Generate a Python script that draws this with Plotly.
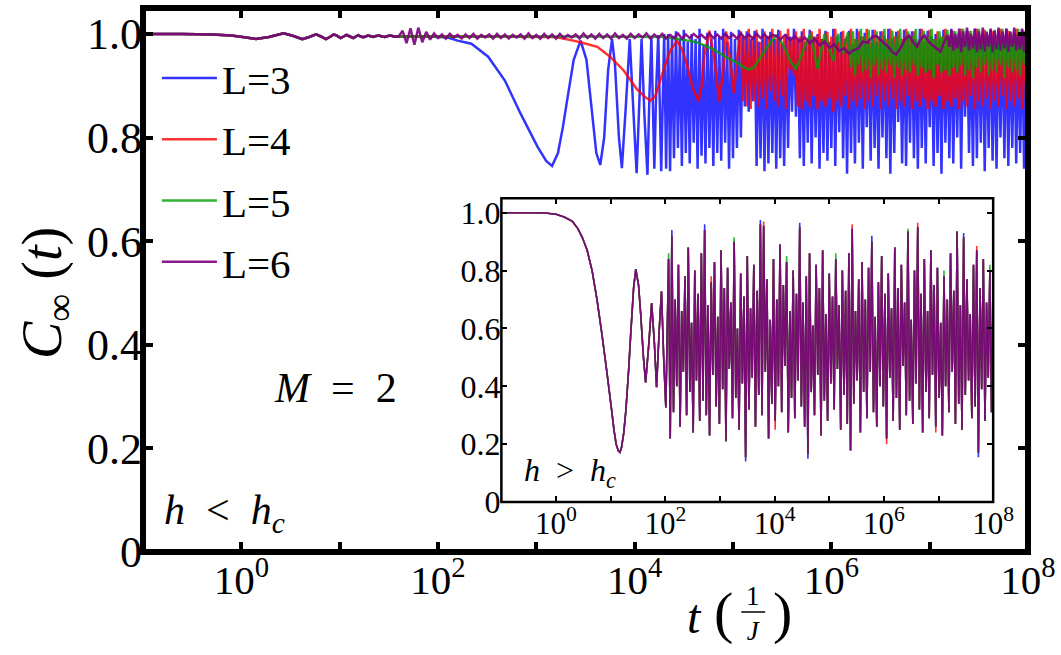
import plotly.graph_objects as go

SERIF = "Liberation Serif"

# ---------------- main panel data (log10 t , C_inf) ----------------
early_lt = [-1.0, -0.6, -0.3, -0.1, 0.05, 0.15, 0.28, 0.43, 0.53, 0.62,
            0.69, 0.76, 0.81, 0.86, 0.90, 0.94, 0.975, 1.01, 1.04, 1.07,
            1.105, 1.14, 1.165, 1.19, 1.215, 1.24, 1.265, 1.29, 1.315, 1.34,
            1.37, 1.40, 1.43, 1.46, 1.49, 1.52, 1.55]
early_v = [1.000, 1.000, 0.999, 0.997, 0.993, 0.990, 0.994, 1.001, 0.996, 0.990,
           0.994, 0.999, 0.995, 0.990, 0.994, 0.999, 0.996, 0.992, 0.995, 0.998,
           0.995, 0.992, 0.995, 0.9975, 0.995, 0.9935, 0.995, 0.997, 0.9955, 0.994,
           0.996, 0.997, 0.995, 0.994, 0.996, 0.997, 0.995]

blue_mid_lt = [1.60, 1.90, 2.10, 2.20, 2.34, 2.51, 2.68, 2.84, 3.01, 3.10,
               3.16, 3.22, 3.27, 3.32, 3.38, 3.45, 3.51, 3.56, 3.61, 3.65,
               3.69, 3.73, 3.77, 3.80, 3.84, 3.87, 3.91, 3.95, 3.99, 4.02,
               4.05, 4.07, 4.10, 4.13, 4.15, 4.17, 4.20, 4.22, 4.24, 4.27,
               4.30, 4.32, 4.34, 4.36]
blue_mid_v = [0.995, 0.995, 0.993, 0.987, 0.981, 0.956, 0.910, 0.846, 0.783, 0.755,
              0.745, 0.770, 0.820, 0.880, 0.950, 0.987, 0.950, 0.860, 0.770, 0.747,
              0.800, 0.930, 0.990, 0.940, 0.800, 0.741, 0.860, 0.990, 0.840, 0.731,
              0.880, 0.990, 0.840, 0.728, 0.880, 0.995, 0.740, 0.900, 0.998, 0.735,
              1.000, 0.740, 1.000, 0.735]

red_mid_lt = [1.60, 2.00, 2.60, 3.00, 3.19, 3.22, 3.35, 3.45, 3.62, 3.75,
              3.89, 4.02, 4.10, 4.16, 4.21, 4.26, 4.31, 4.36, 4.43, 4.48,
              4.53, 4.59, 4.65, 4.68, 4.71, 4.76, 4.81, 4.86, 4.90, 4.93,
              4.97, 5.01, 5.04]
red_mid_v = [0.995, 0.995, 0.995, 0.994, 0.994, 0.993, 0.988, 0.984, 0.975, 0.956,
             0.929, 0.894, 0.879, 0.871, 0.880, 0.910, 0.940, 0.967, 0.987, 0.970,
             0.942, 0.895, 0.870, 0.900, 0.960, 1.006, 0.950, 0.870, 0.930, 1.005,
             0.950, 0.885, 0.950]

green_mid_lt = [1.60, 2.50, 3.50, 4.30, 4.45, 4.63, 4.80, 4.96, 5.06, 5.11,
                5.16, 5.21, 5.26, 5.33, 5.39, 5.44, 5.49, 5.54, 5.59, 5.64,
                5.69, 5.74, 5.79, 5.83, 5.86, 5.90, 5.93, 5.98, 6.02, 6.05,
                6.07, 6.10, 6.12, 6.15, 6.17]
green_mid_v = [0.995, 0.995, 0.995, 0.994, 0.990, 0.984, 0.970, 0.952, 0.942, 0.936,
               0.931, 0.935, 0.948, 0.970, 0.985, 0.996, 0.985, 0.967, 0.945, 0.933,
               0.955, 0.981, 1.000, 0.960, 0.933, 0.970, 1.000, 0.970, 0.948, 0.985,
               1.000, 0.975, 0.962, 0.990, 1.003]

purple_fuzz_lt = [1.60, 1.64, 1.68, 1.72, 1.76, 1.80, 1.84, 1.88, 1.92, 1.96,
                  2.00, 2.04, 2.08, 2.12, 2.16, 2.20, 2.24, 2.28, 2.32, 2.36,
                  2.40, 2.44, 2.48, 2.52, 2.56, 2.60, 2.64, 2.68, 2.72, 2.76,
                  2.80, 2.84, 2.88, 2.92, 2.96, 3.00, 3.04, 3.08, 3.12, 3.16,
                  3.20, 3.24, 3.28, 3.32, 3.36, 3.40, 3.44, 3.48, 3.52, 3.56,
                  3.60, 3.64, 3.68, 3.72, 3.76, 3.80, 3.84, 3.88, 3.92, 3.96,
                  4.00, 4.04, 4.08, 4.12, 4.16, 4.20, 4.24, 4.28, 4.32, 4.36,
                  4.40, 4.44, 4.48, 4.52, 4.56, 4.60, 4.64, 4.68, 4.72, 4.76,
                  4.80, 4.84, 4.88, 4.92, 4.96, 5.00, 5.04, 5.08, 5.12, 5.16,
                  5.20, 5.24, 5.28, 5.32, 5.36, 5.40]
purple_fuzz_v = [0.995, 1.006, 0.982, 1.011, 0.979, 1.012, 0.984, 1.004, 0.989, 1.001,
                 0.992, 0.999, 0.991, 1.000, 0.993, 0.998, 0.991, 0.999, 0.992, 1.000,
                 0.991, 0.998, 0.993, 0.999, 0.991, 1.000, 0.992, 0.999, 0.991, 0.998,
                 0.993, 0.999, 0.991, 1.001, 0.992, 0.998, 0.991, 1.000, 0.992, 0.999,
                 0.991, 1.000, 0.992, 0.998, 0.993, 0.999, 0.991, 1.001, 0.992, 0.999,
                 0.991, 1.000, 0.992, 0.999, 0.991, 1.001, 0.992, 0.998, 0.991, 1.000,
                 0.992, 0.999, 0.993, 1.001, 0.991, 0.999, 0.992, 1.000, 0.991, 0.998,
                 0.992, 1.001, 0.991, 0.999, 0.992, 1.000, 0.993, 0.998, 0.991, 1.001,
                 0.992, 0.999, 0.991, 1.000, 0.992, 0.999, 0.991, 1.001, 0.992, 0.999,
                 0.991, 1.000, 0.992, 0.999, 0.992, 0.998]

purple_dip_lt = [5.44, 5.48, 5.53, 5.58, 5.63, 5.68, 5.73, 5.78, 5.83, 5.88,
                 5.93, 5.98, 6.03, 6.08, 6.13, 6.18, 6.22, 6.27, 6.32, 6.37,
                 6.42, 6.46, 6.52, 6.58, 6.62, 6.66, 6.71, 6.75, 6.79, 6.83,
                 6.87, 6.91, 6.95, 6.99, 7.03, 7.07, 7.11, 7.15, 7.18]
purple_dip_v = [0.996, 0.989, 0.998, 0.988, 0.995, 0.986, 0.993, 0.982, 0.990, 0.978,
                0.985, 0.973, 0.980, 0.967, 0.972, 0.962, 0.968, 0.972, 0.985, 0.983,
                0.995, 0.996, 0.985, 0.975, 0.965, 0.960, 0.975, 0.990, 0.997, 0.985,
                0.975, 0.990, 0.997, 0.985, 0.978, 0.972, 0.966, 0.985, 0.998]

# sampling times of the densely oscillating late-time region (log10 t)
dense_lt = [4.38, 4.40, 4.42, 4.44, 4.46, 4.48, 4.50, 4.52, 4.54, 4.56,
            4.58, 4.60, 4.62, 4.64, 4.66, 4.68, 4.70, 4.72, 4.74, 4.76,
            4.78, 4.80, 4.82, 4.84, 4.86, 4.88, 4.90, 4.92, 4.94, 4.96,
            4.98, 5.00, 5.02, 5.04, 5.06, 5.08, 5.10, 5.12, 5.14, 5.16,
            5.18, 5.20, 5.22, 5.24, 5.26, 5.28, 5.30, 5.32, 5.34, 5.36,
            5.38, 5.40, 5.42, 5.44, 5.46, 5.48, 5.50, 5.52, 5.54, 5.56,
            5.58, 5.60, 5.62, 5.64, 5.66, 5.68, 5.70, 5.72, 5.74, 5.76,
            5.78, 5.80, 5.82, 5.84, 5.86, 5.88, 5.90, 5.92, 5.94, 5.96,
            5.98, 6.00, 6.02, 6.04, 6.06, 6.08, 6.10, 6.12, 6.14, 6.16,
            6.18, 6.20, 6.22, 6.24, 6.26, 6.28, 6.30, 6.32, 6.34, 6.36,
            6.38, 6.40, 6.42, 6.44, 6.46, 6.48, 6.50, 6.52, 6.54, 6.56,
            6.58, 6.60, 6.62, 6.64, 6.66, 6.68, 6.70, 6.72, 6.74, 6.76,
            6.78, 6.80, 6.82, 6.84, 6.86, 6.88, 6.90, 6.92, 6.94, 6.96,
            6.98, 7.00, 7.02, 7.04, 7.06, 7.08, 7.10, 7.12, 7.14, 7.16,
            7.18, 7.20, 7.22, 7.24, 7.26, 7.28, 7.30, 7.32, 7.34, 7.36,
            7.38, 7.40, 7.42, 7.44, 7.46, 7.48, 7.50, 7.52, 7.54, 7.56,
            7.58, 7.60, 7.62, 7.64, 7.66, 7.68, 7.70, 7.72, 7.74, 7.76,
            7.78, 7.80, 7.82, 7.84, 7.86, 7.88, 7.90, 7.92, 7.94, 7.96,
            7.98, 8.00, 8.02]

blue_dense_v = [0.995, 0.76, 1.005, 0.78, 0.990, 0.745, 1.008, 0.77, 0.985, 0.75,
                1.000, 0.79, 0.990, 0.74, 1.010, 0.765, 0.980, 0.75, 1.002, 0.78,
                0.990, 0.745, 1.006, 0.77, 0.995, 0.755, 1.010, 0.79, 0.985, 0.74,
                1.004, 0.76, 0.990, 0.78, 1.008, 0.80, 0.995, 0.86, 1.005, 0.85,
                0.990, 0.87, 1.006, 0.745, 0.985, 0.76, 1.010, 0.735, 0.995, 0.75,
                1.004, 0.77, 0.990, 0.74, 1.008, 0.76, 0.980, 0.745, 1.000, 0.78,
                0.995, 0.85, 1.010, 0.84, 0.990, 0.76, 1.005, 0.745, 0.985, 0.79,
                1.008, 0.75, 0.995, 0.80, 1.000, 0.74, 0.990, 0.77, 1.006, 0.755,
                0.985, 0.78, 1.010, 0.745, 0.995, 0.81, 1.004, 0.76, 0.990, 0.73,
                1.006, 0.77, 0.980, 0.75, 1.010, 0.79, 0.995, 0.74, 1.002, 0.82,
                0.990, 0.755, 1.008, 0.78, 0.985, 0.74, 1.005, 0.80, 0.995, 0.76,
                1.010, 0.73, 0.990, 0.77, 1.004, 0.83, 0.980, 0.75, 1.008, 0.745,
                0.995, 0.79, 1.005, 0.76, 0.990, 0.74, 1.010, 0.78, 0.985, 0.75,
                1.006, 0.82, 0.995, 0.745, 1.000, 0.77, 0.990, 0.73, 1.008, 0.79,
                0.985, 0.76, 1.010, 0.75, 0.995, 0.80, 1.004, 0.74, 0.990, 0.84,
                1.006, 0.77, 0.980, 0.745, 1.010, 0.76, 0.995, 0.79, 1.002, 0.735,
                0.990, 0.78, 1.008, 0.755, 0.985, 0.74, 1.005, 0.80, 0.995, 0.76,
                1.010, 0.745, 0.990, 0.78, 1.004, 0.75, 0.985, 0.77, 1.008, 0.74,
                0.995, 0.79, 1.000]

RED_START, GREEN_START, PURPLE_START = 35, 91, 141
red_dense_v = [1.005, 0.87, 0.990, 0.86, 1.010,
               0.855, 0.995, 0.87, 1.008, 0.86, 0.985, 0.875, 1.005, 0.855, 0.995,
               0.89, 1.010, 0.87, 0.990, 0.86, 1.006, 0.88, 0.995, 0.855, 1.010,
               0.93, 0.990, 0.92, 1.005, 0.86, 0.995, 0.855, 1.010, 0.87, 0.985,
               0.86, 1.005, 0.88, 0.995, 0.855, 1.010, 0.87, 0.990, 0.86, 1.004,
               0.875, 0.995, 0.85, 1.010, 0.87, 0.985, 0.86, 1.006, 0.88, 0.995,
               0.855, 1.010, 0.87, 0.990, 0.86, 1.005, 0.875, 0.995, 0.855, 1.010,
               0.87, 0.985, 0.86, 1.008, 0.88, 0.995, 0.855, 1.005, 0.87, 0.990,
               0.86, 1.010, 0.875, 0.995, 0.855, 1.006, 0.87, 0.990, 0.86, 1.010,
               0.88, 0.995, 0.855, 1.005, 0.87, 0.985, 0.86, 1.010, 0.875, 0.995,
               0.855, 1.008, 0.87, 0.990, 0.86, 1.005, 0.88, 0.995, 0.855, 1.010,
               0.87, 0.995, 0.86, 1.006, 0.875, 0.990, 0.855, 1.010, 0.87, 0.985,
               0.86, 1.005, 0.88, 0.995, 0.855, 1.010, 0.87, 0.990, 0.86, 1.008,
               0.875, 0.995, 0.855, 1.005, 0.87, 0.985, 0.86, 1.010, 0.88, 0.995,
               0.855, 1.006, 0.87, 0.990, 0.86, 1.010, 0.875, 0.995, 0.855, 1.005,
               0.87, 0.990, 0.86]
green_dense_v = [0.935, 1.005, 0.920, 0.990, 0.940, 1.010, 0.925, 0.995, 0.930,
                 1.008, 0.915, 0.990, 0.940, 1.005, 0.920, 0.995, 0.930, 1.010, 0.925,
                 0.990, 0.940, 1.006, 0.915, 0.995, 0.935, 1.010, 0.920, 0.990, 0.930,
                 1.005, 0.925, 0.995, 0.940, 1.010, 0.920, 0.990, 0.935, 1.006, 0.925,
                 0.995, 0.930, 1.010, 0.915, 0.990, 0.940, 1.005, 0.925, 0.995, 0.930,
                 1.008, 0.920, 0.990, 0.935, 1.005, 0.925, 0.995, 0.940, 1.010, 0.920,
                 0.995, 0.930, 1.006, 0.915, 0.990, 0.935, 1.010, 0.925, 0.995, 0.940,
                 1.005, 0.920, 0.990, 0.930, 1.008, 0.925, 0.995, 0.940, 1.010, 0.915,
                 0.990, 0.935, 1.005, 0.925, 0.995, 0.930, 1.010, 0.920, 0.990, 0.940,
                 1.006, 0.925, 0.995]
purple_dense_v = [0.975, 1.008, 0.968, 1.000, 0.972, 1.010, 0.965, 1.005, 0.975,
                  1.012, 0.968, 1.000, 0.972, 1.010, 0.965, 1.005, 0.970, 1.012, 0.966,
                  1.003, 0.975, 1.010, 0.965, 1.006, 0.970, 1.012, 0.968, 1.005, 0.972,
                  1.010, 0.965, 1.004, 0.975, 1.012, 0.968, 1.000, 0.970, 1.010, 0.966,
                  1.006, 0.972, 1.010]

# ---------------- inset data (h > h_c) ----------------
inset_smooth_lt = [-1.0, -0.5, -0.2, 0.0, 0.15, 0.30, 0.40, 0.48, 0.57, 0.66,
                   0.75, 0.84, 0.93, 1.01, 1.06, 1.10, 1.14, 1.17, 1.20, 1.24,
                   1.28, 1.33, 1.37, 1.42, 1.46, 1.51, 1.55, 1.60, 1.64, 1.70,
                   1.75, 1.80, 1.84, 1.89, 1.93, 1.97, 2.01]
inset_smooth_v = [1.000, 1.000, 0.999, 0.995, 0.985, 0.970, 0.945, 0.915, 0.870, 0.800,
                  0.700, 0.580, 0.450, 0.330, 0.250, 0.200, 0.177, 0.172, 0.190, 0.240,
                  0.320, 0.460, 0.590, 0.740, 0.805, 0.750, 0.648, 0.500, 0.413, 0.550,
                  0.688, 0.550, 0.397, 0.600, 0.728, 0.500, 0.327]
inset_dense_lt = [2.06, 2.09, 2.12, 2.15, 2.18, 2.21, 2.24, 2.27, 2.30, 2.33,
                  2.36, 2.39, 2.42, 2.45, 2.48, 2.51, 2.54, 2.57, 2.60, 2.63,
                  2.66, 2.69, 2.72, 2.75, 2.78, 2.81, 2.84, 2.87, 2.90, 2.93,
                  2.96, 2.99, 3.02, 3.05, 3.08, 3.11, 3.14, 3.17, 3.20, 3.23,
                  3.26, 3.29, 3.32, 3.35, 3.38, 3.41, 3.44, 3.47, 3.50, 3.53,
                  3.56, 3.59, 3.62, 3.65, 3.68, 3.71, 3.74, 3.77, 3.80, 3.83,
                  3.86, 3.89, 3.92, 3.95, 3.98, 4.01, 4.04, 4.07, 4.10, 4.13,
                  4.16, 4.19, 4.22, 4.25, 4.28, 4.31, 4.34, 4.37, 4.40, 4.43,
                  4.46, 4.49, 4.52, 4.55, 4.58, 4.61, 4.64, 4.67, 4.70, 4.73,
                  4.76, 4.79, 4.82, 4.85, 4.88, 4.91, 4.94, 4.97, 5.00, 5.03,
                  5.06, 5.09, 5.12, 5.15, 5.18, 5.21, 5.24, 5.27, 5.30, 5.33,
                  5.36, 5.39, 5.42, 5.45, 5.48, 5.51, 5.54, 5.57, 5.60, 5.63,
                  5.66, 5.69, 5.72, 5.75, 5.78, 5.81, 5.84, 5.87, 5.90, 5.93,
                  5.96, 5.99, 6.02, 6.05, 6.08, 6.11, 6.14, 6.17, 6.20, 6.23,
                  6.26, 6.29, 6.32, 6.35, 6.38, 6.41, 6.44, 6.47, 6.50, 6.53,
                  6.56, 6.59, 6.62, 6.65, 6.68, 6.71, 6.74, 6.77, 6.80, 6.83,
                  6.86, 6.89, 6.92, 6.95, 6.98, 7.01, 7.04, 7.07, 7.10, 7.13,
                  7.16, 7.19, 7.22, 7.25, 7.28, 7.31, 7.34, 7.37, 7.40, 7.43,
                  7.46, 7.49, 7.52, 7.55, 7.58, 7.61, 7.64, 7.67, 7.70, 7.73,
                  7.76, 7.79, 7.82, 7.85, 7.88, 7.91, 7.94, 7.97, 8.00, 8.03]
inset_dense_v = [0.84, 0.22, 0.92, 0.31, 0.70, 0.40, 0.82, 0.26, 0.66, 0.45,
                 0.78, 0.30, 0.88, 0.38, 0.62, 0.24, 0.80, 0.42, 0.72, 0.28,
                 0.86, 0.35, 0.94, 0.30, 0.68, 0.23, 0.76, 0.44, 0.83, 0.33,
                 0.64, 0.27, 0.87, 0.39, 0.74, 0.21, 0.81, 0.46, 0.69, 0.29,
                 0.90, 0.36, 0.60, 0.25, 0.79, 0.41, 0.71, 0.155, 0.85, 0.32,
                 0.67, 0.43, 0.82, 0.26, 0.73, 0.37, 0.96, 0.30, 0.955, 0.45,
                 0.77, 0.22, 0.63, 0.34, 0.84, 0.28, 0.70, 0.40, 0.89, 0.31,
                 0.75, 0.47, 0.83, 0.24, 0.66, 0.36, 0.80, 0.29, 0.72, 0.42,
                 0.95, 0.33, 0.69, 0.26, 0.78, 0.165, 0.86, 0.38, 0.61, 0.30,
                 0.82, 0.44, 0.74, 0.23, 0.87, 0.35, 0.65, 0.28, 0.79, 0.41,
                 0.71, 0.32, 0.84, 0.46, 0.68, 0.25, 0.80, 0.37, 0.73, 0.27,
                 0.86, 0.178, 0.945, 0.34, 0.66, 0.42, 0.77, 0.24, 0.83, 0.38,
                 0.70, 0.29, 0.81, 0.45, 0.90, 0.31, 0.64, 0.26, 0.76, 0.40,
                 0.85, 0.33, 0.72, 0.22, 0.79, 0.43, 0.67, 0.28, 0.88, 0.36,
                 0.74, 0.25, 0.82, 0.47, 0.69, 0.30, 0.935, 0.35, 0.63, 0.27,
                 0.80, 0.41, 0.95, 0.32, 0.72, 0.24, 0.84, 0.38, 0.66, 0.29,
                 0.87, 0.44, 0.75, 0.26, 0.81, 0.36, 0.62, 0.23, 0.78, 0.40,
                 0.70, 0.31, 0.86, 0.45, 0.73, 0.27, 0.935, 0.34, 0.68, 0.25,
                 0.915, 0.37, 0.77, 0.42, 0.65, 0.29, 0.82, 0.33, 0.87, 0.17,
                 0.74, 0.39, 0.84, 0.28, 0.69, 0.43, 0.80, 0.31, 0.72, 0.35]
# spikes where the smaller systems poke out of the L=6 curve (index into dense part)
inset_tips_L3_idx = [2, 22, 47, 56, 80, 85, 124, 180, 189]
inset_tips_L3_v = [0.94, 0.96, 0.14, 0.975, 0.965, 0.15, 0.92, 0.93, 0.155]
inset_tips_L4_idx = [26, 58, 65, 112, 133, 152, 163, 188]
inset_tips_L4_v = [0.78, 0.97, 0.25, 0.96, 0.20, 0.965, 0.24, 0.885]
inset_tips_L5_idx = [0, 40, 72, 102, 146, 168, 196]
inset_tips_L5_v = [0.86, 0.915, 0.85, 0.86, 0.945, 0.80, 0.82]

names = ["L=3", "L=4", "L=5", "L=6"]
colors = ["rgba(0,0,255,0.8)", "rgba(255,0,0,0.8)", "rgba(0,160,0,0.8)", "rgba(128,0,128,0.9)"]

x_major_exp = [0, 2, 4, 6, 8]
x_major_text = ["10<sup>0</sup>", "10<sup>2</sup>", "10<sup>4</sup>", "10<sup>6</sup>",
                "10<sup>8</sup>"]
x_minor_exp = [-1, 1, 3, 5, 7]
y_tick_vals = [0, 0.2, 0.4, 0.6, 0.8, 1.0]
y_tick_text = ["0", "0.2", "0.4", "0.6", "0.8", "1.0"]

# ---------------- assemble series ----------------
for a, b in [(early_lt, early_v), (blue_mid_lt, blue_mid_v), (red_mid_lt, red_mid_v),
             (green_mid_lt, green_mid_v), (purple_fuzz_lt, purple_fuzz_v),
             (purple_dip_lt, purple_dip_v), (dense_lt, blue_dense_v),
             (dense_lt[RED_START:], red_dense_v), (dense_lt[GREEN_START:], green_dense_v),
             (dense_lt[PURPLE_START:], purple_dense_v),
             (inset_smooth_lt, inset_smooth_v), (inset_dense_lt, inset_dense_v)]:
    assert len(a) == len(b), (len(a), len(b))

main_lt = [
    early_lt + blue_mid_lt + dense_lt,
    early_lt + red_mid_lt + dense_lt[RED_START:],
    early_lt + green_mid_lt + dense_lt[GREEN_START:],
    early_lt + purple_fuzz_lt + purple_dip_lt + dense_lt[PURPLE_START:],
]
main_v = [
    early_v + blue_mid_v + blue_dense_v,
    early_v + red_mid_v + red_dense_v,
    early_v + green_mid_v + green_dense_v,
    early_v + purple_fuzz_v + purple_dip_v + purple_dense_v,
]

inset_lt = inset_smooth_lt + inset_dense_lt
n0 = len(inset_smooth_lt)
inset_L6 = inset_smooth_v + inset_dense_v


def with_tips(idx, vals):
    out = list(inset_L6)
    for i, v in zip(idx, vals):
        out[n0 + i] = v
    return out


inset_v = [with_tips(inset_tips_L3_idx, inset_tips_L3_v),
           with_tips(inset_tips_L4_idx, inset_tips_L4_v),
           with_tips(inset_tips_L5_idx, inset_tips_L5_v),
           inset_L6]

fig = go.Figure()
for k in range(4):
    fig.add_trace(go.Scatter(
        x=[10 ** e for e in main_lt[k]], y=main_v[k], mode="lines", name=names[k],
        legendgroup=names[k], line=dict(color=colors[k], width=2.5, simplify=False)))
for k in range(4):
    fig.add_trace(go.Scatter(
        x=[10 ** e for e in inset_lt], y=inset_v[k], mode="lines", showlegend=False,
        xaxis="x2", yaxis="y2", line=dict(color=colors[k], width=1.6, simplify=False)))

# ---------------- layout ----------------
W, H = 1061, 655
L_, R_, T_, B_ = 143, 1032, 5, 551.7


def px(x):
    return (x - L_) / (R_ - L_)


def py(y):
    return (B_ - y) / (B_ - T_)


axis_common = dict(ticks="inside", tickcolor="black", mirror="allticks", showline=False,
                   showgrid=False, zeroline=False)


def log_axis(ticklen, tickwidth, size, **kw):
    return dict(type="log", range=[-1, 8], tickvals=[10 ** e for e in x_major_exp],
                ticktext=x_major_text, ticklen=ticklen, tickwidth=tickwidth,
                tickfont=dict(size=size, family=SERIF),
                minor=dict(tickvals=[10 ** e for e in x_minor_exp], ticks="inside",
                           ticklen=ticklen, tickwidth=tickwidth, tickcolor="black",
                           showgrid=False),
                **axis_common, **kw)


fig.update_layout(
    width=W, height=H, paper_bgcolor="white", plot_bgcolor="white",
    margin=dict(l=L_, r=W - R_, t=T_, b=H - B_, pad=0),
    font=dict(family=SERIF, color="black"),
    xaxis=log_axis(10, 3.5, 41),
    yaxis=dict(range=[0, 1.05], tickvals=y_tick_vals, ticktext=y_tick_text,
               ticklen=10, tickwidth=3.5, tickfont=dict(size=44, family=SERIF), **axis_common),
    xaxis2=log_axis(6, 2.2, 31, domain=[px(503), px(997)], anchor="y2"),
    yaxis2=dict(range=[0, 1.05], domain=[py(501.5), py(196.2)], anchor="x2",
                tickvals=y_tick_vals, ticktext=y_tick_text, ticklen=6, tickwidth=2.2,
                tickfont=dict(size=32, family=SERIF), **axis_common),
    legend=dict(x=px(157), y=py(42), xanchor="left", yanchor="top",
                bgcolor="rgba(0,0,0,0)", font=dict(size=41, family=SERIF),
                itemwidth=55, tracegroupgap=5),
    shapes=[
        dict(type="rect", xref="paper", yref="paper", x0=0, x1=1, y0=0, y1=1,
             line=dict(color="black", width=6), layer="above"),
        dict(type="rect", xref="x2 domain", yref="y2 domain", x0=0, x1=1, y0=0, y1=1,
             line=dict(color="black", width=2.5), layer="above"),
        dict(type="line", xref="paper", yref="paper", x0=px(744), x1=px(768),
             y0=py(612), y1=py(612), line=dict(color="black", width=1.5)),
    ],
)

ann = [
    dict(text="<i>C</i><sub>∞</sub> (<i>t</i>)", x=px(45), y=py(291), size=56, angle=-90),
    dict(text="<i>t</i>", x=px(697), y=py(617), size=48, angle=0),
    dict(text="(", x=px(726), y=py(612), size=58, angle=0),
    dict(text="1<br><i>J</i>", x=px(756), y=py(614), size=27, angle=0),
    dict(text=")", x=px(785), y=py(612), size=58, angle=0),
    dict(text="<i>M</i>\u2002=\u20022", x=px(336), y=py(387), size=42, angle=0),
    dict(text="<i>h</i>\u2002&lt;\u2002<i>h</i><sub><i>c</i></sub>", x=px(225), y=py(513), size=42, angle=0),
    dict(text="<i>h</i>\u2002&gt;\u2002<i>h</i><sub><i>c</i></sub>", x=px(572), y=py(472), size=32, angle=0),
]
for a in ann:
    fig.add_annotation(text=a["text"], x=a["x"], y=a["y"], xref="paper", yref="paper",
                       showarrow=False, xanchor="center", yanchor="middle",
                       textangle=a["angle"], font=dict(size=a["size"], family=SERIF, color="black"))

fig.write_html("out.html")
